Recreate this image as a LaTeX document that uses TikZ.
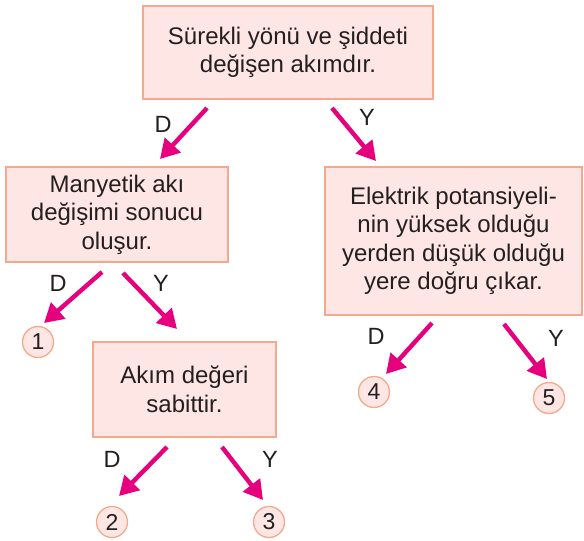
\documentclass[tikz,border=0pt]{standalone}
\usepackage{fontspec}
\setmainfont{Liberation Sans}
\usetikzlibrary{arrows.meta}
\definecolor{boxfill}{HTML}{FDE6E3}
\definecolor{boxline}{HTML}{F5A98C}
\definecolor{arr}{HTML}{E6007E}
\definecolor{txt}{HTML}{231F20}
\tikzset{
  qbox/.style={draw=boxline, line width=1.5pt, fill=boxfill, align=center, text=txt,
    font=\fontsize{24}{28.5}\selectfont, inner sep=0pt},
  numc/.style={circle, draw=boxline, line width=1.3pt, fill=boxfill, text=txt,
    minimum size=31pt, inner sep=0pt, font=\fontsize{23}{24}\selectfont},
  lbl/.style={text=txt, font=\fontsize{23.5}{24}\selectfont, inner sep=0pt},
  pa/.style={draw=arr, line width=4.4pt, -{Triangle[length=19pt,width=21pt]}}
}
\begin{document}
\begin{tikzpicture}[x=1pt,y=-1pt]
\useasboundingbox[fill=white] (0,0) rectangle (584,541);
% boxes
\node[qbox, minimum width=290pt, minimum height=93pt] (top) at (288,52.5)
  {Sürekli yönü ve şiddeti\\değişen akımdır.};
\node[qbox, minimum width=222pt, minimum height=95pt] (mak) at (117,214.5)
  {Manyetik akı\\değişimi sonucu\\oluşur.};
\node[qbox, minimum width=257pt, minimum height=148pt] (ele) at (453.5,241)
  {Elektrik potansiyeli-\\nin yüksek olduğu\\yerden düşük olduğu\\yere doğru çıkar.};
\node[qbox, minimum width=183pt, minimum height=95pt] (akm) at (184.5,389.5)
  {Akım değeri\\sabittir.};
% circles
\node[numc] (c1) at (38,342) {1};
\node[numc] (c2) at (112,522) {2};
\node[numc] (c3) at (269,522) {3};
\node[numc] (c4) at (374,392) {4};
\node[numc] (c5) at (549,398) {5};
% labels
\node[lbl] (l1) at (163,124) {D};
\node[lbl] (l2) at (367,117) {Y};
\node[lbl] (l3) at (58,283) {D};
\node[lbl] (l4) at (161,283) {Y};
\node[lbl] (l5) at (376,336) {D};
\node[lbl] (l6) at (556,338) {Y};
\node[lbl] (l7) at (112,459) {D};
\node[lbl] (l8) at (270,459) {Y};
% arrow end points
\coordinate (a1s) at (207,108); \coordinate (a1e) at (160,159);
\coordinate (a2s) at (332,108); \coordinate (a2e) at (376,161);
\coordinate (a3s) at (102,272); \coordinate (a3e) at (44,323);
\coordinate (a4s) at (123,273); \coordinate (a4e) at (177,329);
\coordinate (a5s) at (432,323); \coordinate (a5e) at (386,374);
\coordinate (a6s) at (504,324); \coordinate (a6e) at (547,379);
\coordinate (a7s) at (167,447); \coordinate (a7e) at (119,496);
\coordinate (a8s) at (222,447); \coordinate (a8e) at (263,500);
\draw[pa] (a1s) -- (a1e);
\draw[pa] (a2s) -- (a2e);
\draw[pa] (a3s) -- (a3e);
\draw[pa] (a4s) -- (a4e);
\draw[pa] (a5s) -- (a5e);
\draw[pa] (a6s) -- (a6e);
\draw[pa] (a7s) -- (a7e);
\draw[pa] (a8s) -- (a8e);
\end{tikzpicture}
\end{document}
